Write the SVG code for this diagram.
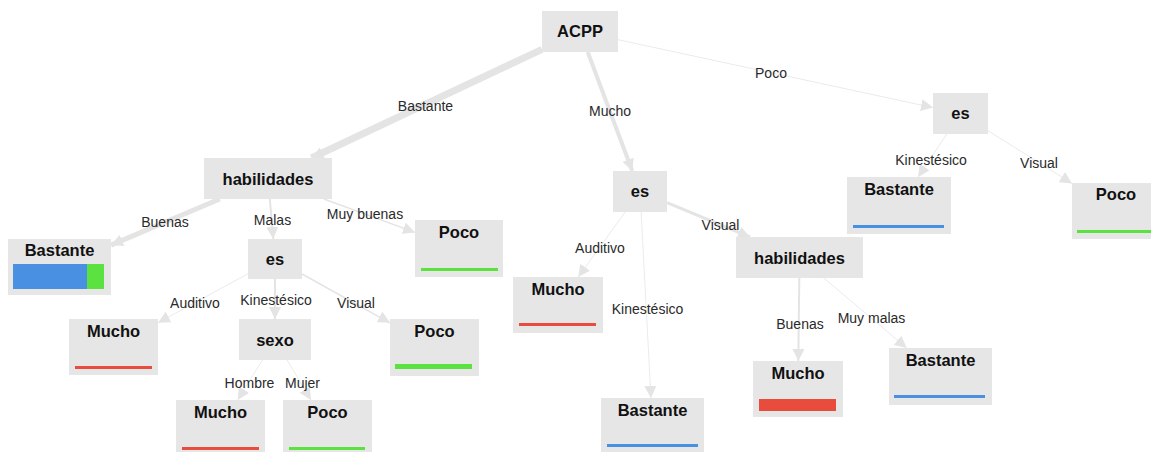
<svg xmlns="http://www.w3.org/2000/svg" width="1151" height="452" viewBox="0 0 1151 452">
<style>
.n rect.b{fill:#e6e6e6}
.n text{font-family:"Liberation Sans",Arial,sans-serif;font-weight:bold;font-size:16.5px;fill:#111;text-anchor:middle}
.e line{stroke:#e4e4e4;fill:none}
.e line.t{stroke:#ebebeb}
.e text{font-family:"Liberation Sans",Arial,sans-serif;font-size:14px;fill:#2a2a2a;text-anchor:middle}
.bl{fill:#4a90e2}.gr{fill:#5be240}.rd{fill:#e74c3c}
</style>
<defs>
<marker id="ar" markerUnits="userSpaceOnUse" markerWidth="12" markerHeight="12" refX="12" refY="6" orient="auto">
<path d="M0,0 L12,6 L0,12 z" fill="#e4e4e4"/>
</marker>
</defs>
<rect width="1151" height="452" fill="#fff"/>
<g id="connectors" class="e">
<line x1="542" y1="49.4" x2="311.5" y2="158" stroke-width="7" marker-end="url(#ar)"/>
<line x1="587.7" y1="52" x2="632.3" y2="171" stroke-width="4" marker-end="url(#ar)"/>
<line class="t" x1="618" y1="39.7" x2="933" y2="107.6" stroke-width="1" marker-end="url(#ar)"/>
<line x1="219.7" y1="199" x2="111" y2="245.1" stroke-width="5" marker-end="url(#ar)"/>
<line x1="269.8" y1="199" x2="273.3" y2="239" stroke-width="2" marker-end="url(#ar)"/>
<line x1="323.9" y1="199" x2="415" y2="232.4" stroke-width="1.5" marker-end="url(#ar)"/>
<line class="t" x1="248" y1="273.7" x2="158" y2="322.8" stroke-width="1" marker-end="url(#ar)"/>
<line x1="275" y1="279" x2="275" y2="319" stroke-width="2" marker-end="url(#ar)"/>
<line x1="302" y1="274" x2="390" y2="322.8" stroke-width="1.5" marker-end="url(#ar)"/>
<line class="t" x1="262.4" y1="360" x2="237.7" y2="400" stroke-width="1" marker-end="url(#ar)"/>
<line class="t" x1="287.2" y1="360" x2="310.9" y2="400" stroke-width="1" marker-end="url(#ar)"/>
<line class="t" x1="625.2" y1="212" x2="578.2" y2="277" stroke-width="1" marker-end="url(#ar)"/>
<line class="t" x1="641.1" y1="212" x2="651" y2="398" stroke-width="1" marker-end="url(#ar)"/>
<line x1="667" y1="202.7" x2="750" y2="237" stroke-width="3" marker-end="url(#ar)"/>
<line x1="799.3" y1="278" x2="798.3" y2="361" stroke-width="2" marker-end="url(#ar)"/>
<line class="t" x1="823.8" y1="278" x2="906.7" y2="348" stroke-width="1" marker-end="url(#ar)"/>
<line class="t" x1="946.8" y1="134" x2="918.1" y2="177" stroke-width="1" marker-end="url(#ar)"/>
<line class="t" x1="988" y1="130.7" x2="1072" y2="183.4" stroke-width="1" marker-end="url(#ar)"/>
<text x="425.5" y="111">Bastante</text>
<text x="610" y="116">Mucho</text>
<text x="771" y="78">Poco</text>
<text x="165" y="227">Buenas</text>
<text x="272.5" y="225">Malas</text>
<text x="365" y="219">Muy buenas</text>
<text x="195" y="308">Auditivo</text>
<text x="276" y="305">Kinestésico</text>
<text x="356" y="308">Visual</text>
<text x="249.5" y="388">Hombre</text>
<text x="302.5" y="388">Mujer</text>
<text x="600" y="253">Auditivo</text>
<text x="647.5" y="314">Kinestésico</text>
<text x="720.5" y="230">Visual</text>
<text x="800" y="329">Buenas</text>
<text x="871.5" y="322.5">Muy malas</text>
<text x="931" y="165">Kinestésico</text>
<text x="1039" y="168">Visual</text>
</g>
<g id="n-acpp" class="n"><rect class="b" x="542" y="11" width="76" height="41"/><text x="580" y="37">ACPP</text></g>
<g id="n-hab1" class="n"><rect class="b" x="204" y="158" width="128" height="41"/><text x="268" y="184.5">habilidades</text></g>
<g id="n-es2" class="n"><rect class="b" x="613" y="171" width="54" height="41"/><text x="640" y="197">es</text></g>
<g id="n-es3" class="n"><rect class="b" x="933" y="93" width="55" height="41"/><text x="960.5" y="119">es</text></g>
<g id="n-bast1" class="n"><rect class="b" x="8" y="239" width="103" height="56"/><text x="59.5" y="256">Bastante</text><rect class="bl" x="13" y="264" width="74" height="25"/><rect class="gr" x="87" y="264" width="17" height="25"/></g>
<g id="n-es1" class="n"><rect class="b" x="248" y="239" width="54" height="40"/><text x="275" y="265">es</text></g>
<g id="n-poco1" class="n"><rect class="b" x="415" y="220" width="88" height="57"/><text x="459" y="237.5">Poco</text><rect class="gr" x="421" y="268" width="77" height="3"/></g>
<g id="n-mucho1" class="n"><rect class="b" x="69" y="319" width="89" height="56"/><text x="113.5" y="336.5">Mucho</text><rect class="rd" x="75" y="366" width="77" height="3"/></g>
<g id="n-sexo" class="n"><rect class="b" x="239" y="319" width="72" height="41"/><text x="275" y="345.5">sexo</text></g>
<g id="n-poco2" class="n"><rect class="b" x="390" y="319" width="89" height="57"/><text x="434.5" y="336.5">Poco</text><rect class="gr" x="395" y="364" width="77" height="5"/></g>
<g id="n-mucho2" class="n"><rect class="b" x="176" y="400" width="89" height="56"/><text x="220.5" y="417.5">Mucho</text><rect class="rd" x="182" y="447" width="77" height="3"/></g>
<g id="n-poco3" class="n"><rect class="b" x="283" y="400" width="89" height="56"/><text x="327.5" y="417.5">Poco</text><rect class="gr" x="289" y="447" width="76" height="3"/></g>
<g id="n-mucho3" class="n"><rect class="b" x="513" y="277" width="90" height="56"/><text x="558" y="294.5">Mucho</text><rect class="rd" x="519" y="323" width="77" height="3"/></g>
<g id="n-bast2" class="n"><rect class="b" x="601" y="398" width="103" height="56"/><text x="652.5" y="415.5">Bastante</text><rect class="bl" x="607" y="444" width="91" height="3"/></g>
<g id="n-hab2" class="n"><rect class="b" x="736" y="237" width="127" height="41"/><text x="799.5" y="263.5">habilidades</text></g>
<g id="n-mucho4" class="n"><rect class="b" x="753" y="361" width="90" height="56"/><text x="798" y="378.5">Mucho</text><rect class="rd" x="759" y="399" width="77" height="12"/></g>
<g id="n-bast3" class="n"><rect class="b" x="889" y="348" width="103" height="57"/><text x="940.5" y="365.5">Bastante</text><rect class="bl" x="894" y="395" width="91" height="3"/></g>
<g id="n-bast4" class="n"><rect class="b" x="847" y="177" width="104" height="57"/><text x="899" y="195">Bastante</text><rect class="bl" x="853" y="225" width="91" height="3"/></g>
<g id="n-poco4" class="n"><rect class="b" x="1072" y="183" width="88" height="56"/><text x="1116" y="200">Poco</text><rect class="gr" x="1077" y="230" width="80" height="3"/></g>
</svg>
